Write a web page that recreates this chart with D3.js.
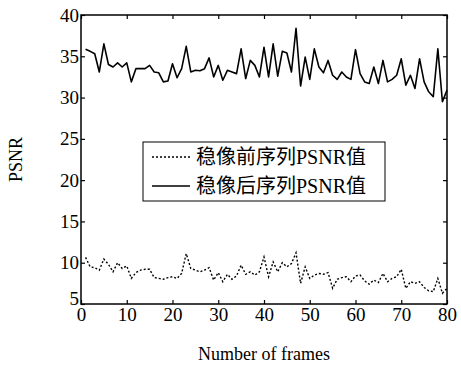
<!DOCTYPE html>
<html><head><meta charset="utf-8">
<script src="https://cdn.jsdelivr.net/npm/d3@7"></script>
<style>body{margin:0;background:#fff}svg{display:block}</style>
</head><body>
<script>
const frames = d3.range(1, 81);
const before = [10.65,9.5,9.4,9.1,10.45,9.8,8.9,10.0,9.3,9.6,8.1,8.8,9.1,9.2,9.2,8.2,8.1,8.0,8.2,8.3,8.1,8.7,11.1,9.3,
  9.1,8.9,9.1,9.4,7.9,8.8,7.7,8.6,8.0,8.4,9.7,8.6,8.9,8.5,8.9,10.7,8.3,10.1,8.9,10.0,9.5,9.9,11.2,7.5,9.5,8.1,
  8.5,8.7,8.6,8.8,6.9,8.0,8.2,8.3,7.7,8.4,8.5,7.8,7.4,7.9,7.6,8.7,7.7,8.1,8.3,9.2,6.9,7.7,7.5,7.7,7.0,6.6,6.5,8.1,6.3,6.9];
const after = [35.85,35.6,35.3,33.1,36.5,34.0,33.7,34.2,33.7,34.2,31.9,33.5,33.5,33.5,33.9,33.1,33.0,31.9,32.0,34.1,32.4,33.5,36.2,33.1,33.3,33.25,
  33.5,34.8,32.5,33.9,32.1,33.3,33.1,32.9,35.9,32.3,34.5,33.9,32.5,36.1,32.5,36.5,32.6,35.6,35.4,33.1,38.4,31.4,34.9,32.2,35.9,33.7,
  33.0,34.5,32.7,32.2,33.1,32.5,32.2,35.8,32.9,31.9,31.7,33.7,31.7,34.5,31.9,32.2,32.7,34.7,31.5,32.7,31.1,34.7,31.9,30.7,30.1,35.9,29.5,30.9];
const xTicks = [0,10,20,30,40,50,60,70,80];
const yTicks = [5,10,15,20,25,30,35,40];
const legendLabels = ["稳像前序列PSNR值", "稳像后序列PSNR值"];
const xTitle = "Number of frames";
const yTitle = "PSNR";

const W = 461, H = 366;
const m = {l: 81, r: 14, t: 15, b: 62};
const svg = d3.select("body").append("svg").attr("width", W).attr("height", H);
const x = d3.scaleLinear().domain([0, 80]).range([m.l, W - m.r]);
const y = d3.scaleLinear().domain([5, 40]).range([H - m.b, m.t]);
const font = "'Liberation Serif','Times New Roman','Noto Sans CJK SC',serif";

const line = d3.line().x((d, i) => x(frames[i])).y(d => y(d));
svg.append("path").datum(after).attr("d", line).attr("fill", "none")
  .attr("stroke", "#000").attr("stroke-width", 1.6).attr("stroke-linejoin", "round");
svg.append("path").datum(before).attr("d", line).attr("fill", "none")
  .attr("stroke", "#000").attr("stroke-width", 1.4).attr("stroke-dasharray", "2,2");

function styleAxis(g) {
  g.attr("font-family", font);
  g.select(".domain").remove();
  g.selectAll("line").attr("stroke", "#000").attr("stroke-width", 1.2);
  g.selectAll("text").attr("font-family", font).attr("font-size", 19).attr("fill", "#000");
}
svg.append("g").attr("transform", `translate(0,${y(5)})`)
  .call(d3.axisBottom(x).tickValues(xTicks).tickSize(-4).tickPadding(4).tickFormat(d3.format("d"))).call(styleAxis);
svg.append("g").attr("transform", `translate(0,${y(40)})`)
  .call(d3.axisTop(x).tickValues(xTicks).tickSize(-4).tickFormat("")).call(styleAxis);
const yg = svg.append("g").attr("transform", `translate(${x(0)},0)`)
  .call(d3.axisLeft(y).tickValues(yTicks).tickSize(-4).tickPadding(2).tickFormat(d3.format("d"))).call(styleAxis);
yg.selectAll(".tick").filter(d => d === 5).select("text").attr("dy", "0.05em");
svg.append("g").attr("transform", `translate(${x(80)},0)`)
  .call(d3.axisRight(y).tickValues(yTicks).tickSize(-4).tickFormat("")).call(styleAxis);

svg.append("rect").attr("x", x(0)).attr("y", y(40)).attr("width", x(80) - x(0)).attr("height", y(5) - y(40))
  .attr("fill", "none").attr("stroke", "#000").attr("stroke-width", 1.5);

// legend
const lg = svg.append("g");
lg.append("rect").attr("x", 143).attr("y", 142).attr("width", 242).attr("height", 59)
  .attr("fill", "#fff").attr("stroke", "#000").attr("stroke-width", 1);
const rows = [{lab: legendLabels[0], dash: "2,2", yy: 157}, {lab: legendLabels[1], dash: null, yy: 186}];
rows.forEach(r => {
  lg.append("line").attr("x1", 152).attr("x2", 190).attr("y1", r.yy).attr("y2", r.yy)
    .attr("stroke", "#000").attr("stroke-width", r.dash ? 1.4 : 1.6).attr("stroke-dasharray", r.dash);
  lg.append("text").attr("x", 196).attr("y", r.yy).attr("dy", "0.36em").text(r.lab)
    .attr("font-family", font).attr("font-size", 20).attr("fill", "#000");
});

svg.append("text").attr("x", (x(0) + x(80)) / 2).attr("y", 360).attr("text-anchor", "middle")
  .attr("font-family", font).attr("font-size", 18).text(xTitle);
svg.append("text").attr("transform", `translate(22,${(y(5) + y(40)) / 2}) rotate(-90)`).attr("text-anchor", "middle")
  .attr("font-family", font).attr("font-size", 18).text(yTitle);
</script>
</body></html>
